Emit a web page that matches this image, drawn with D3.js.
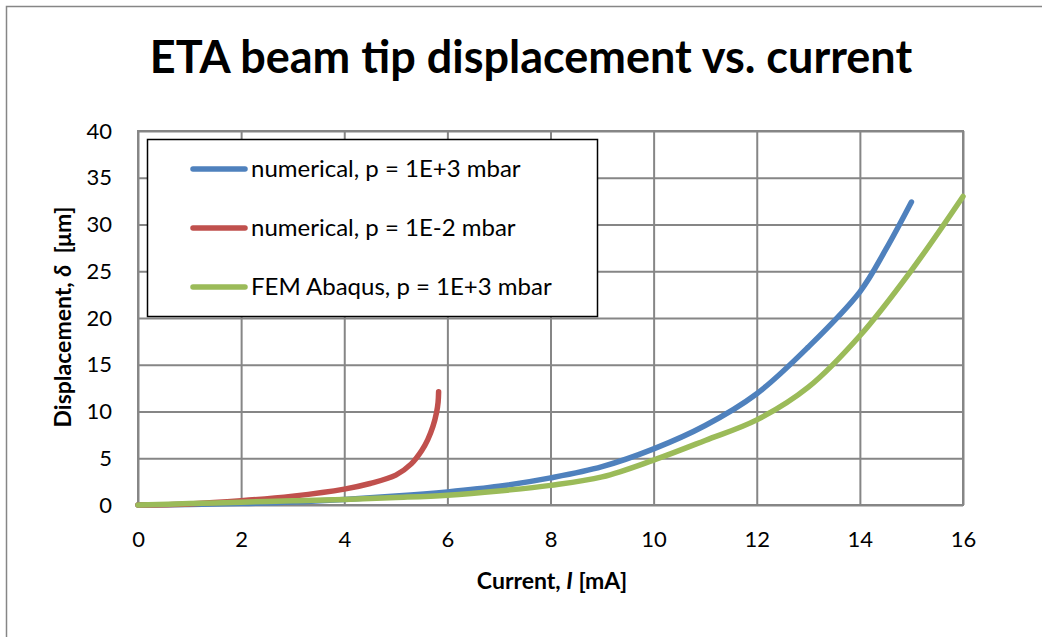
<!DOCTYPE html>
<html>
<head>
<meta charset="utf-8">
<script src="https://cdn.jsdelivr.net/npm/d3@7"></script>
<style>
  body { margin:0; background:#fff; }
  text { font-family: Lato, "Open Sans", sans-serif; fill:#000; }
</style>
</head>
<body>
<div id="chart"></div>
<script>
// data
var seriesNames = ["numerical, p = 1E+3 mbar", "numerical, p = 1E-2 mbar", "FEM Abaqus, p = 1E+3 mbar"];
var seriesColors = ["#4f81bd", "#c0504d", "#9bbb59"];

var blueX = [0, 1, 2, 3, 4, 5, 6, 7, 8, 9, 10, 11, 12, 13, 14, 14.5, 15];
var blueY = [0, 0.05, 0.15, 0.32, 0.6, 0.95, 1.4, 2.0, 2.9, 4.1, 6.0, 8.5, 11.9, 16.9, 22.8, 27.3, 32.4];

var redX = [0, 1, 2, 3, 4, 4.5, 5, 5.3, 5.5, 5.62, 5.72, 5.79, 5.82, 5.83];
var redY = [0, 0.12, 0.45, 0.95, 1.7, 2.3, 3.2, 4.4, 5.8, 7.0, 8.4, 9.9, 11.0, 12.1];

var greenX = [0, 1, 2, 3, 4, 5, 6, 7, 8, 9, 10, 11, 12, 13, 14, 15, 16];
var greenY = [0, 0.15, 0.3, 0.45, 0.6, 0.8, 1.05, 1.5, 2.1, 3.0, 4.8, 6.9, 9.1, 12.6, 18.1, 25.1, 33.0];

var xTicks = [0, 2, 4, 6, 8, 10, 12, 14, 16];
var yTicks = [0, 5, 10, 15, 20, 25, 30, 35, 40];

(function () {
    var W = 1042, H = 637;
    var margin = { top:131, left:138, right:79, bottom:132 },
        width = W - margin.left - margin.right,
        height = H - margin.top - margin.bottom;

    var svg = d3.select("#chart").append("svg")
        .attr("width", W).attr("height", H);

    // outer chart border (only top/left visible)
    svg.append("rect")
        .attr("x", 6.5).attr("y", 6.5)
        .attr("width", W + 20).attr("height", H + 20)
        .style("fill", "none").style("stroke", "#868686").style("stroke-width", 1.5);

    svg.append("text")
        .attr("x", 531).attr("y", 73)
        .attr("text-anchor", "middle")
        .style("font-size", "45px").style("font-weight", "bold")
        .text("ETA beam tip displacement vs. current");

    var g = svg.append("g").attr("transform", "translate(" + margin.left + "," + margin.top + ")");

    var x = d3.scaleLinear().domain([0, 16]).range([0, width]);
    var y = d3.scaleLinear().domain([0, 40]).range([height, 0]);

    // gridlines
    g.append("g").attr("class", "grid")
        .attr("transform", "translate(0," + height + ")")
        .call(d3.axisBottom(x).tickValues(xTicks).tickSize(-height).tickFormat(""))
        .call(function (a) { a.select(".domain").remove(); });
    g.append("g").attr("class", "grid")
        .call(d3.axisLeft(y).tickValues(yTicks).tickSize(-width).tickFormat(""))
        .call(function (a) { a.select(".domain").remove(); });
    g.selectAll(".grid line").style("stroke", "#868686").style("stroke-width", 2);

    g.append("rect")
        .attr("width", width).attr("height", height)
        .style("fill", "none").style("stroke", "#868686").style("stroke-width", 2);

    // tick labels
    var xa = g.append("g")
        .attr("transform", "translate(0," + height + ")")
        .call(d3.axisBottom(x).tickValues(xTicks).tickSize(0).tickPadding(26));
    xa.select(".domain").remove();
    xa.selectAll("text").style("font-size", "22px").style("font-family", "Lato, sans-serif");

    var ya = g.append("g")
        .call(d3.axisLeft(y).tickValues(yTicks).tickSize(0).tickPadding(26));
    ya.select(".domain").remove();
    ya.selectAll("text").style("font-size", "22px").style("font-family", "Lato, sans-serif");

    // axis titles
    var xt = svg.append("text")
        .attr("x", 552).attr("y", 589)
        .attr("text-anchor", "middle")
        .style("font-size", "23px").style("font-weight", "bold");
    xt.append("tspan").text("Current, ");
    xt.append("tspan").style("font-style", "italic").text("I");
    xt.append("tspan").text(" [mA]");

    var yt = svg.append("text")
        .attr("transform", "translate(71,317) rotate(-90)")
        .attr("text-anchor", "middle")
        .style("font-size", "23px").style("font-weight", "bold")
        .style("white-space", "pre");
    yt.append("tspan").text("Displacement, ");
    yt.append("tspan").style("font-style", "italic").text("\u03b4");
    yt.append("tspan").text("  [\u03bcm]");

    // curves
    var line = d3.line()
        .x(function (d) { return x(d[0]); })
        .y(function (d) { return y(d[1]); })
        .curve(d3.curveCatmullRom.alpha(0.5));

    var series = [d3.zip(blueX, blueY), d3.zip(redX, redY), d3.zip(greenX, greenY)];

    g.selectAll(".series")
        .data(series)
        .enter().append("path")
        .attr("class", "series")
        .attr("d", line)
        .style("fill", "none")
        .style("stroke", function (d, i) { return seriesColors[i]; })
        .style("stroke-width", 5.5)
        .style("stroke-linecap", "round")
        .style("stroke-linejoin", "round");

    // legend
    var lg = svg.append("g");
    lg.append("rect")
        .attr("x", 147.5).attr("y", 139.5).attr("width", 450).attr("height", 177)
        .style("fill", "#fff").style("stroke", "#000").style("stroke-width", 1.5);

    var rowY = [169, 228, 287];
    var items = lg.selectAll(".item").data(seriesNames).enter().append("g");
    items.append("line")
        .attr("x1", 193).attr("x2", 245)
        .attr("y1", function (d, i) { return rowY[i]; })
        .attr("y2", function (d, i) { return rowY[i]; })
        .style("stroke", function (d, i) { return seriesColors[i]; })
        .style("stroke-width", 5.5).style("stroke-linecap", "round");
    items.append("text")
        .attr("x", 251)
        .attr("y", function (d, i) { return rowY[i] + 8; })
        .style("font-size", "24px")
        .text(function (d) { return d; });
})()
</script>
</body>
</html>
